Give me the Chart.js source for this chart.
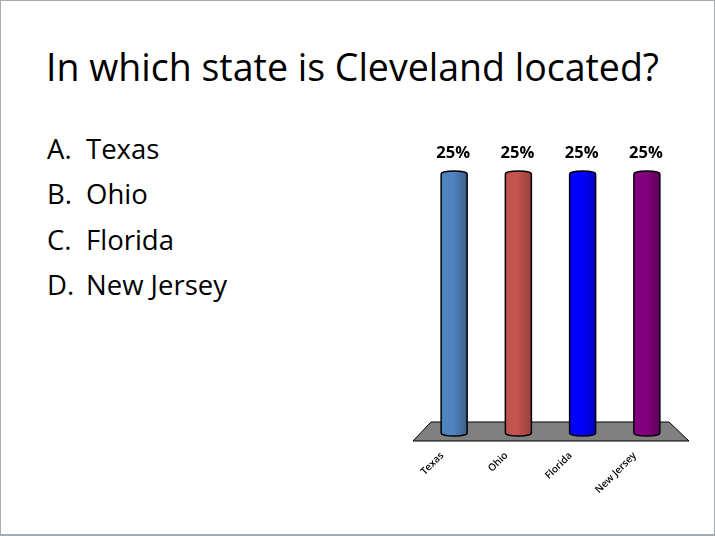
<!DOCTYPE html>
<html>
<head>
<meta charset="utf-8">
<script src="https://cdn.jsdelivr.net/npm/chart.js@4"></script>
<style>
  html, body { margin: 0; padding: 0; background: #fff; }
  #slide {
    position: absolute; left: 0; top: 0; width: 713px; height: 533px;
    border: 1px solid #a5abb3; border-bottom: 2px solid #a5abb3;
    font-family: "Open Sans", "Noto Sans", sans-serif; color: #000;
  }
  #title { position: absolute; left: 45px; top: 40px; font-size: 37.5px; white-space: nowrap; }
  #answers { position: absolute; left: 46px; top: 125px; font-size: 27.5px; line-height: 45.3px; margin: 0; padding: 0; list-style: none; }
  #answers span { display: inline-block; width: 39px; }
  #wrap { position: absolute; left: 400px; top: 120px; width: 310px; height: 400px; }
</style>
</head>
<body>
<div id="slide">
  <div id="title">In which state is Cleveland located?</div>
  <ul id="answers">
    <li><span>A.</span>Texas</li>
    <li><span>B.</span>Ohio</li>
    <li><span>C.</span>Florida</li>
    <li><span>D.</span>New Jersey</li>
  </ul>
  <div id="wrap"><canvas id="chart"></canvas></div>
</div>
<script>
const states = ["Texas", "Ohio", "Florida", "New Jersey"];
const shares = [25, 25, 25, 25];
const lightColors = ["#5084c0", "#c3534f", "#0000ff", "#83007f"];
const darkColors = ["#3b5f8c", "#9c403d", "#0000c4", "#5e005c"];

// floor under the bars + cylinders drawn from the bar elements
const cylinderPlugin = {
  id: "cylinders",
  beforeDatasetsDraw(chart) {
    const ctx = chart.ctx;
    const a = chart.chartArea;
    const yb = a.bottom;
    ctx.save();
    ctx.beginPath();
    ctx.moveTo(a.left + 9, yb - 14);
    ctx.lineTo(a.right - 10, yb - 14);
    ctx.lineTo(a.right + 10, yb + 5);
    ctx.lineTo(a.left - 9, yb + 5);
    ctx.closePath();
    ctx.fillStyle = "#808080";
    ctx.fill();
    ctx.strokeStyle = "#000";
    ctx.lineWidth = 1;
    ctx.stroke();
    ctx.restore();
  },
  afterDatasetsDraw(chart) {
    const ctx = chart.ctx;
    const meta = chart.getDatasetMeta(0);
    meta.data.forEach((bar, i) => {
      const w = bar.width, x0 = bar.x - w / 2, x1 = bar.x + w / 2;
      const top = bar.y, base = bar.base - 3;
      const ry = 3;
      const g = ctx.createLinearGradient(x0, 0, x1, 0);
      g.addColorStop(0, lightColors[i]);
      g.addColorStop(0.45, lightColors[i]);
      g.addColorStop(1, darkColors[i]);
      ctx.save();
      ctx.beginPath();
      ctx.moveTo(x0, top + ry);
      ctx.ellipse(bar.x, top + ry, w / 2, ry, 0, Math.PI, 2 * Math.PI);
      ctx.lineTo(x1, base);
      ctx.ellipse(bar.x, base, w / 2, ry, 0, 0, Math.PI);
      ctx.closePath();
      ctx.fillStyle = g;
      ctx.fill();
      ctx.strokeStyle = "#000";
      ctx.lineWidth = 1.5;
      ctx.stroke();

      // value label
      ctx.fillStyle = "#000";
      ctx.font = "bold 16.5px 'Open Sans', sans-serif";
      ctx.textAlign = "center";
      ctx.textBaseline = "middle";
      ctx.fillText(shares[i] + "%", bar.x - 1, top - 18);

      // category label, rotated
      ctx.translate(bar.x - 12, chart.chartArea.bottom + 18);
      ctx.rotate(-Math.PI / 4);
      ctx.font = "600 10px 'Open Sans', sans-serif";
      ctx.textAlign = "right";
      ctx.textBaseline = "middle";
      ctx.fillText(states[i], 0, 0);
      ctx.restore();
    });
  }
};

new Chart(document.getElementById("chart"), {
  type: "bar",
  data: {
    labels: states,
    datasets: [{
      data: shares,
      backgroundColor: "rgba(0,0,0,0)",
      borderWidth: 0,
      barThickness: 26
    }]
  },
  options: {
    responsive: true,
    maintainAspectRatio: false,
    animation: false,
    layout: { padding: { left: 21, right: 32, top: 50, bottom: 85 } },
    scales: {
      x: { display: false },
      y: { display: false, min: 0, max: 25 }
    },
    plugins: { legend: { display: false }, tooltip: { enabled: false } }
  },
  plugins: [cylinderPlugin]
});
</script>
</body>
</html>
